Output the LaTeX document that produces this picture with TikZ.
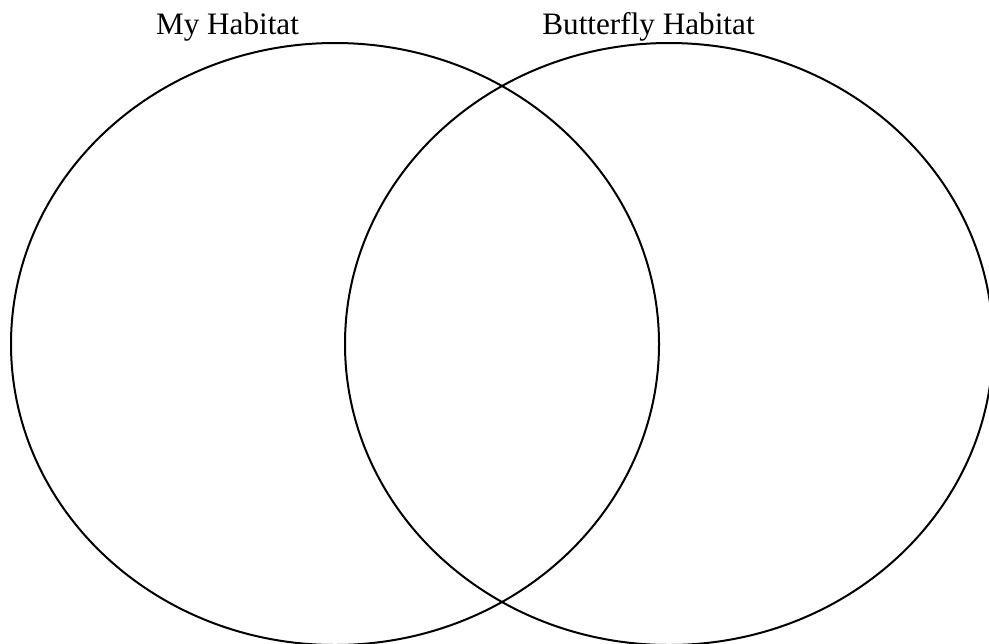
\documentclass[tikz,border=0pt]{standalone}
\usepackage{fontspec}
\setmainfont{Liberation Serif}
\tikzset{venn/.style={x=0.5pt,y=-0.5pt,line width=1pt},
  setlabel/.style={anchor=base,font=\fontsize{15.6}{18}\selectfont}}

\begin{document}
\begin{tikzpicture}[venn]
    \def\rx{324}
    \def\ry{301}
    \clip (0,0) rectangle (989,643);
    \coordinate (mine) at (335,344);
    \coordinate (fly)  at (669,344);
    \draw (mine) ellipse [x radius=\rx, y radius=\ry];   % my habitat
    \draw (fly)  ellipse [x radius=\rx, y radius=\ry];   % butterfly habitat
    \node[setlabel] (minelabel) at (227.5,34) {My Habitat};
    \node[setlabel] (flylabel)  at (648.5,34) {Butterfly Habitat};
\end{tikzpicture}
\end{document}
